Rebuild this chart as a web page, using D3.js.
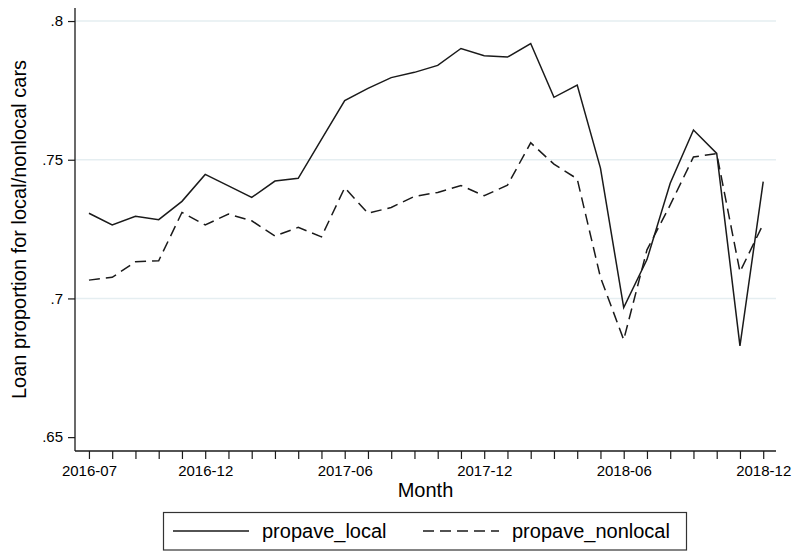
<!DOCTYPE html>
<html>
<head>
<meta charset="utf-8">
<script src="https://cdn.jsdelivr.net/npm/d3@7"></script>
<style>
  html, body { margin: 0; padding: 0; background: #fff; }
  svg { display: block; font-family: "Liberation Sans", Arial, sans-serif; }
</style>
</head>
<body>
<svg id="chart" width="794" height="553"></svg>
<script>
// Monthly categories, 2016-07 .. 2018-12
const months = [
  "2016-07","2016-08","2016-09","2016-10","2016-11","2016-12",
  "2017-01","2017-02","2017-03","2017-04","2017-05","2017-06",
  "2017-07","2017-08","2017-09","2017-10","2017-11","2017-12",
  "2018-01","2018-02","2018-03","2018-04","2018-05","2018-06",
  "2018-07","2018-08","2018-09","2018-10","2018-11","2018-12"
];

// Average loan proportion, local cars
const propaveLocal = [
  0.7307, 0.7265, 0.7296, 0.7284, 0.7350, 0.7447,
  0.7406, 0.7364, 0.7423, 0.7433, 0.7573, 0.7713,
  0.7757, 0.7796, 0.7815, 0.7840, 0.7901, 0.7875,
  0.7870, 0.7919, 0.7725, 0.7769, 0.7470, 0.6967,
  0.7140, 0.7415, 0.7607, 0.7523, 0.6829, 0.7421
];

// Average loan proportion, nonlocal cars
const propaveNonlocal = [
  0.7066, 0.7076, 0.7132, 0.7136, 0.7310, 0.7265,
  0.7304, 0.7280, 0.7225, 0.7256, 0.7222, 0.7399,
  0.7307, 0.7328, 0.7368, 0.7382, 0.7407, 0.7370,
  0.7408, 0.7561, 0.7484, 0.7431, 0.7076, 0.6851,
  0.7175, 0.7337, 0.7510, 0.7522, 0.7096, 0.7268
];

// Labelled x positions and y ticks
const xTickLabels = ["2016-07", "2016-12", "2017-06", "2017-12", "2018-06", "2018-12"];
const yTicks = [0.65, 0.70, 0.75, 0.80];
const seriesNames = ["propave_local", "propave_nonlocal"];

const svg = d3.select("#chart");
const ink = "#1a1a1a";

const x = d3.scaleLinear().domain([-0.6, 29.55]).range([75, 776]);
const y = d3.scaleLinear().domain([0.645, 0.8047]).range([451, 8]);

// Grid lines (none at the bottom tick)
svg.append("g")
  .selectAll("line")
  .data(yTicks.filter(v => v > 0.65))
  .join("line")
  .attr("x1", x.range()[0]).attr("x2", x.range()[1])
  .attr("y1", d => y(d)).attr("y2", d => y(d))
  .attr("stroke", "#e5eef1").attr("stroke-width", 1.4);

// Y axis
const yAxis = d3.axisLeft(y)
  .tickValues(yTicks)
  .tickSize(7).tickPadding(5)
  .tickFormat(d => d3.format(".2f")(d).replace(/^0/, "").replace(/0$/, ""));
const gy = svg.append("g").attr("transform", `translate(${x.range()[0]},0)`).call(yAxis);
gy.select(".domain").attr("d", `M0,${y.range()[0]}V${y.range()[1]}`);

// X axis: a tick every month, labels at selected months
const xAxis = d3.axisBottom(x)
  .tickValues(d3.range(months.length))
  .tickSize(8).tickPadding(6)
  .tickFormat(i => xTickLabels.includes(months[i]) ? months[i] : "");
const gx = svg.append("g").attr("transform", `translate(0,${y.range()[0]})`).call(xAxis);
gx.select(".domain").attr("d", `M${x.range()[0]},0H${x.range()[1]}`);

[gx, gy].forEach(g => {
  g.select(".domain").attr("stroke", ink).attr("stroke-width", 1.3);
  g.selectAll(".tick line").attr("stroke", ink).attr("stroke-width", 1.2);
  g.selectAll(".tick text").attr("fill", "#000").style("font-size", "15px")
    .style("font-family", "'Liberation Sans', Arial, sans-serif");
});

// Series lines
const line = d3.line().x((d, i) => x(i)).y(d => y(d));
svg.append("path").datum(propaveLocal)
  .attr("d", line).attr("fill", "none")
  .attr("stroke", ink).attr("stroke-width", 1.5).attr("stroke-linejoin", "miter");
svg.append("path").datum(propaveNonlocal)
  .attr("d", line).attr("fill", "none")
  .attr("stroke", ink).attr("stroke-width", 1.5).attr("stroke-dasharray", "11,6");

// Axis titles
svg.append("text")
  .attr("x", (x.range()[0] + x.range()[1]) / 2).attr("y", 497)
  .attr("text-anchor", "middle").style("font-size", "20px").attr("fill", "#000")
  .text("Month");
svg.append("text")
  .attr("transform", `translate(26,${(y.range()[0] + y.range()[1]) / 2}) rotate(-90)`)
  .attr("text-anchor", "middle").style("font-size", "20px").attr("fill", "#000")
  .text("Loan proportion for local/nonlocal cars");

// Legend
const legend = svg.append("g");
legend.append("rect")
  .attr("x", 163.5).attr("y", 512.5).attr("width", 523).attr("height", 37.5)
  .attr("fill", "#fff").attr("stroke", "#333").attr("stroke-width", 1.2);
const legendItems = [
  { name: seriesNames[0], x0: 173, dash: null },
  { name: seriesNames[1], x0: 423, dash: "11,6" }
];
legendItems.forEach(it => {
  legend.append("line")
    .attr("x1", it.x0).attr("x2", it.x0 + 76).attr("y1", 531).attr("y2", 531)
    .attr("stroke", ink).attr("stroke-width", 1.5)
    .attr("stroke-dasharray", it.dash);
  legend.append("text")
    .attr("x", it.x0 + 89).attr("y", 538)
    .style("font-size", "20px").attr("fill", "#000")
    .text(it.name);
});
</script>
</body>
</html>
